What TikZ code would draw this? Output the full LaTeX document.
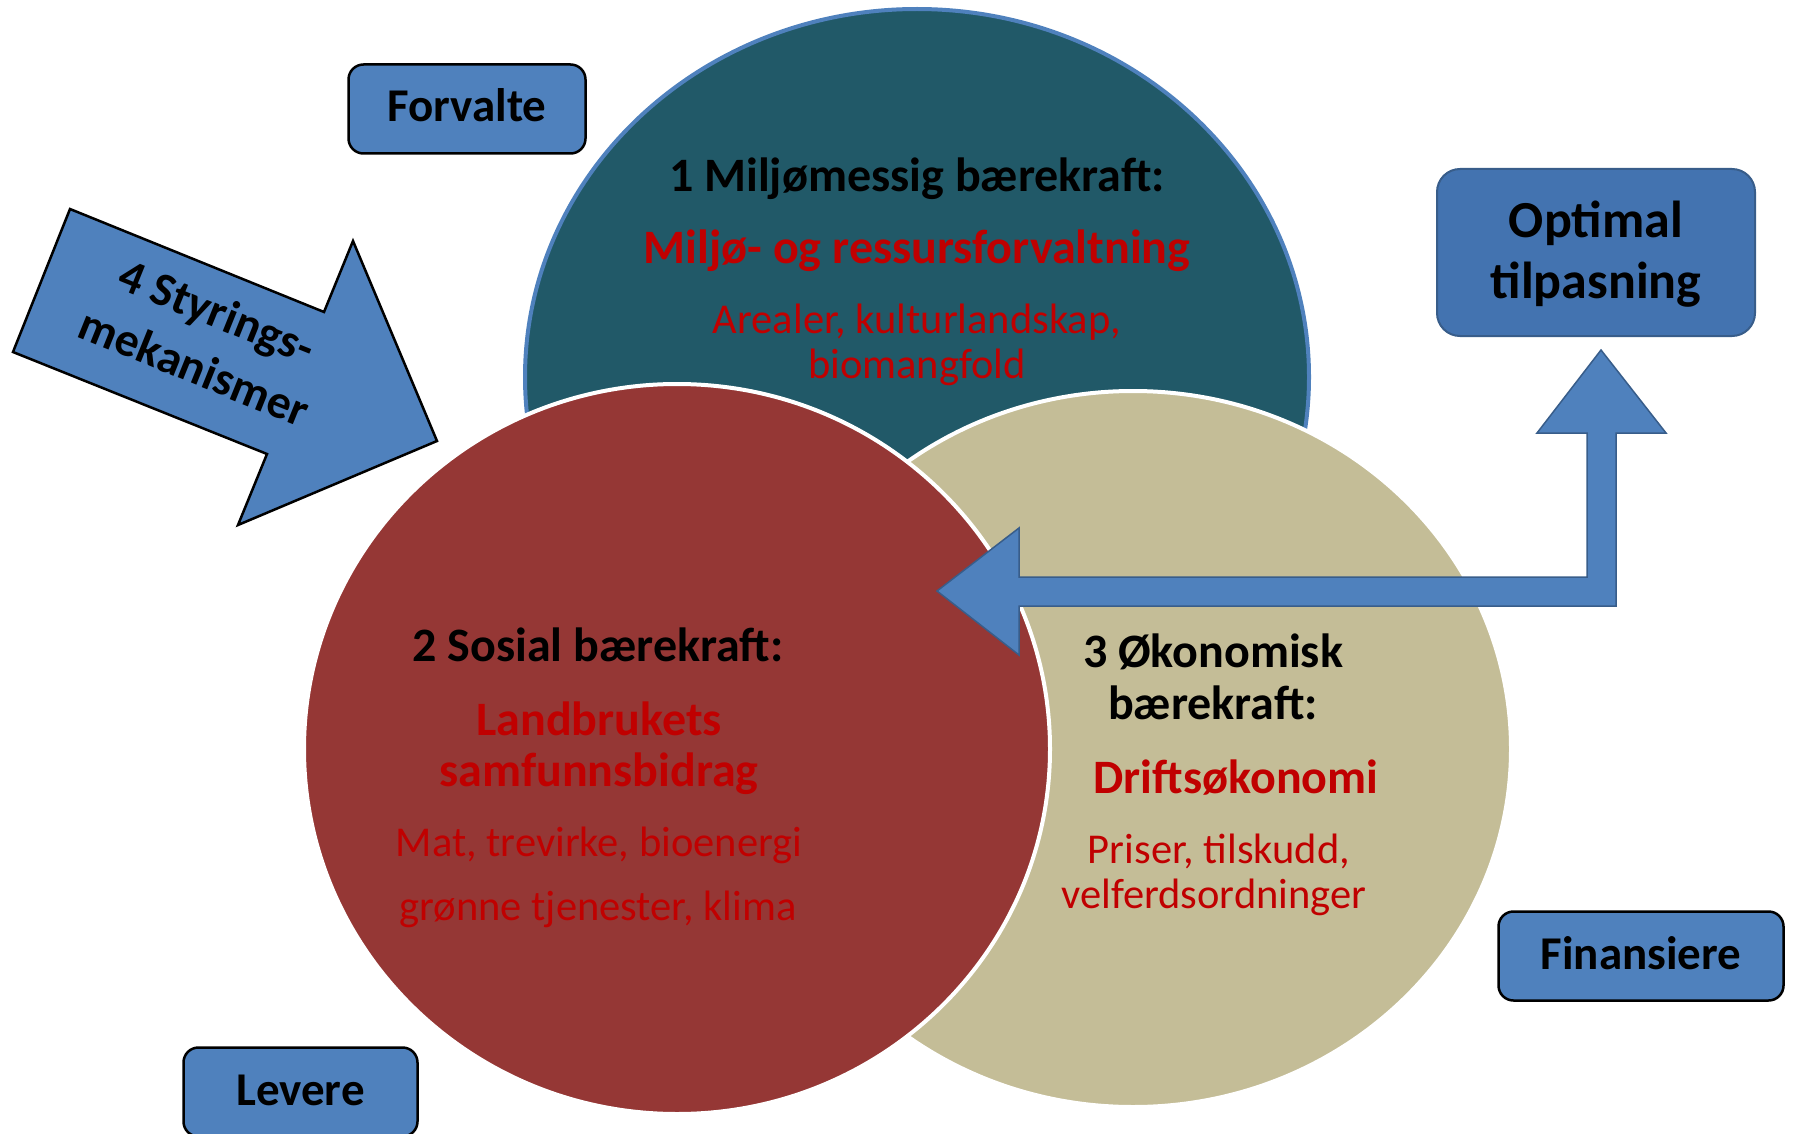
\documentclass[tikz,border=0pt]{standalone}
\usepackage{fontspec}
\setmainfont{Carlito}
\usetikzlibrary{shapes.geometric}
\definecolor{tealc}{HTML}{215968}
\definecolor{redc}{HTML}{953735}
\definecolor{beigec}{HTML}{C4BD97}
\definecolor{boxblue}{HTML}{4F81BD}
\definecolor{optblue}{HTML}{4373B0}
\definecolor{optedge}{HTML}{385D8A}
\definecolor{redtxt}{HTML}{C00000}
\begin{document}
\begin{tikzpicture}[x=1pt,y=-1pt,
  circ/.style={ellipse, inner sep=0pt, line width=4pt},
  head/.style={font=\fontsize{48}{56}\selectfont\bfseries, anchor=base, inner sep=0pt},
  headred/.style={head, text=redtxt},
  detail/.style={font=\fontsize{42.5}{50}\selectfont, anchor=base, inner sep=0pt, text=redtxt},
  boxc/.style={draw=black, line width=2.5pt, fill=boxblue, rounded corners=15pt,
    font=\fontsize{47}{56}\selectfont\bfseries, text height=30pt, text depth=4pt, inner sep=0pt},
  blockarrow/.style={fill=boxblue, draw=optedge, line width=1.5pt, line join=miter}
]
\useasboundingbox (0,0) rectangle (1793,1134);

% circles
\node[circ, draw=boxblue, fill=tealc, minimum width=784pt, minimum height=736pt] (env) at (917,377) {};
\node[circ, draw=white, fill=beigec, minimum width=756pt, minimum height=716pt] (eco) at (1133,749) {};
\node[circ, draw=white, fill=redc, minimum width=746pt, minimum height=730pt] (soc) at (677,749) {};

% texts in environment circle
\node[head] (env1) at (917,192) {1 Miljømessig bærekraft:};
\node[headred] (env2) at (917,263) {Miljø- og ressursforvaltning};
\node[detail] (env3) at (917,333) {Arealer, kulturlandskap,};
\node[detail] (env4) at (917,378) {biomangfold};

% texts in social circle
\node[head] (soc1) at (598,661) {2 Sosial bærekraft:};
\node[headred] (soc2) at (599,735) {Landbrukets};
\node[headred] (soc3) at (599,786) {samfunnsbidrag};
\node[detail] (soc4) at (599,856) {Mat, trevirke, bioenergi};
\node[detail] (soc5) at (598,920) {grønne tjenester, klima};

% texts in economic circle
\node[head] (eco1) at (1213,667) {3 Økonomisk};
\node[head] (eco2) at (1213,719) {bærekraft:};
\node[headred] (eco3) at (1236,793) {Driftsøkonomi};
\node[detail] (eco4) at (1219,863) {Priser, tilskudd,};
\node[detail] (eco5) at (1214,908) {velferdsordninger};

% styrings arrow
\draw[fill=boxblue, draw=black, line width=2.5pt, line join=miter]
  (70,209) -- (324,312) -- (353,241) -- (437,441) -- (238,525) -- (267,454) -- (13,352) -- cycle;
\node[font=\fontsize{47.5}{60}\selectfont\bfseries, rotate=-22, align=center, inner sep=0pt] (styr) at (206,339) {4 Styrings-\\mekanismer};

% bent arrow
\draw[blockarrow] (1601,350) -- (1666,433) -- (1616,433) -- (1616,606) -- (1019,606) -- (1019,655)
  -- (937,591) -- (1019,528) -- (1019,577) -- (1587,577) -- (1587,433) -- (1537,433) -- cycle;

% optimal box
\node[draw=optedge, line width=2pt, fill=optblue, rounded corners=23pt, minimum width=318pt, minimum height=167pt, inner sep=0pt] (opt) at (1596,252.5) {};
\node[font=\fontsize{52}{60}\selectfont\bfseries, anchor=base, inner sep=0pt] (opt1) at (1596,237) {Optimal};
\node[font=\fontsize{52}{60}\selectfont\bfseries, anchor=base, inner sep=0pt] (opt2) at (1596,298) {tilpasning};

% label boxes
\node[boxc, minimum width=237pt, minimum height=89pt] (forv) at (467,109) {Forvalte};
\node[boxc, minimum width=285pt, minimum height=89pt] (fin) at (1641,956) {Finansiere};
\node[boxc, minimum width=234pt, minimum height=89pt] (lev) at (300.5,1092) {Levere};
\end{tikzpicture}
\end{document}
